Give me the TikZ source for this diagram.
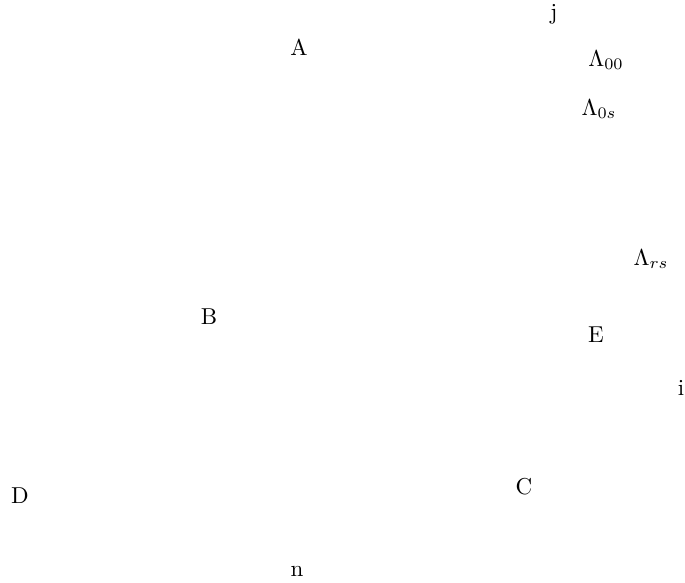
\documentclass[tikz,border=0pt]{standalone}
\begin{document}
\begin{tikzpicture}[x=0.4348pt,y=-0.4348pt,lbl/.style={inner sep=0pt,anchor=center}]
\useasboundingbox (0,0) rectangle (685,582);
\node[lbl] (j) at (554,14) {j};
\node[lbl] (A) at (299,47) {A};
\node[lbl] (L00) at (606,60) {$\Lambda_{00}$};
\node[lbl] (L0s) at (599,109) {$\Lambda_{0s}$};
\node[lbl] (Lrs) at (651,259) {$\Lambda_{rs}$};
\node[lbl] (B) at (209,317) {B};
\node[lbl] (E) at (596,335) {E};
\node[lbl] (i) at (681,388) {i};
\node[lbl] (D) at (20,496) {D};
\node[lbl] (C) at (524,487) {C};
\node[lbl] (n) at (297,571) {n};
\end{tikzpicture}
\end{document}
